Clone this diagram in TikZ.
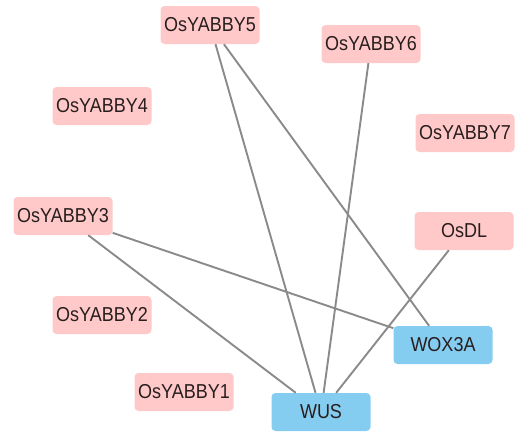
\documentclass[tikz,border=0pt]{standalone}
\usepackage{fontspec}
\setmainfont{Liberation Sans}
\definecolor{genepink}{RGB}{255,201,201}
\definecolor{geneblue}{RGB}{132,204,240}
\definecolor{edgegray}{RGB}{138,138,138}
\definecolor{labeltext}{RGB}{40,30,30}
\newcommand{\genelabel}[1]{\scalebox{1}[1.12]{#1}}
\tikzstyle{gene} = [rounded corners=4pt, minimum width=99pt, minimum height=38pt, inner sep=0pt, text=labeltext, font=\fontsize{18}{20}\selectfont]
\tikzstyle{yabby} = [gene, fill=genepink]
\tikzstyle{wox} = [gene, fill=geneblue]
\tikzstyle{edge} = [draw=edgegray, line width=1.9pt]

\begin{document}
\begin{tikzpicture}[x=1pt, y=-1pt]
  \useasboundingbox (0,0) rectangle (521,431);
  \node (y5) at (210,25) [yabby] {\genelabel{OsYABBY5}};
  \node (y6) at (371,44) [yabby] {\genelabel{OsYABBY6}};
  \node (y4) at (102,106) [yabby] {\genelabel{OsYABBY4}};
  \node (y7) at (465,133) [yabby] {\genelabel{OsYABBY7}};
  \node (y3) at (63,216) [yabby] {\genelabel{OsYABBY3}};
  \node (dl) at (464,231) [yabby] {\genelabel{OsDL}};
  \node (y2) at (102,315) [yabby] {\genelabel{OsYABBY2}};
  \node (y1) at (184,392) [yabby] {\genelabel{OsYABBY1}};
  \node (wus) at (321,412) [wox] {\genelabel{WUS}};
  \node (wox) at (443,345) [wox] {\genelabel{WOX3A}};
  \draw [edge] (y5) to (wus);
  \draw [edge] (y5) to (wox);
  \draw [edge] (y6) to (wus);
  \draw [edge] (y3) to (wus);
  \draw [edge] (y3) to (wox);
  \draw [edge] (dl) to (wus);
\end{tikzpicture}
\end{document}
